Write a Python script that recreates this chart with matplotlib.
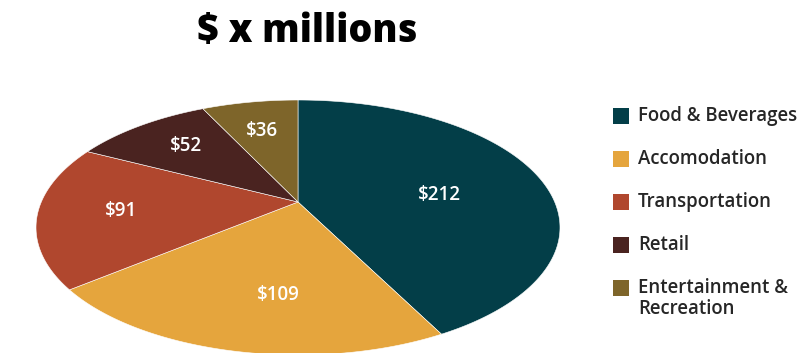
import numpy as np
import matplotlib
matplotlib.use("Agg")
import matplotlib.pyplot as plt
from matplotlib.patches import Polygon, Rectangle

# spending by category, $ millions
categories = ["Food & Beverages", "Accomodation", "Transportation", "Retail",
              "Entertainment &\nRecreation"]
values = [212, 109, 91, 52, 36]
value_labels = ["$212", "$109", "$91", "$52", "$36"]
colors = ["#033e48", "#e5a53d", "#b0472e", "#4a2320", "#7e652a"]

# where each value label sits: radius on the disc and turn from mid-slice (deg)
label_r = [0.56, 0.66, 0.683, 0.696, 0.675]
label_turn = [-7.8, 6.2, 0.0, -1.0, 0.6]

plt.rcParams["font.family"] = ["Open Sans", "DejaVu Sans"]

fig = plt.figure(figsize=(8.11, 3.53), dpi=100)
ax = fig.add_axes([0, 0, 1, 1])
ax.set_xlim(0, 811)
ax.set_ylim(353, 0)
ax.axis("off")

# tilted pie: unit disc seen in perspective (far side on top)
cx, cy = 298, 202      # apex of the slices
sx, sy = 256.7, 122.4  # horizontal / vertical scale
tilt = 0.2             # perspective strength


def project(r, theta):
    u = r * np.cos(theta)
    v = r * np.sin(theta)
    w = 1 + tilt * v
    return cx + sx * u / w, cy - sy * v / w


fracs = np.array(values, dtype=float) / sum(values)
edges = np.pi / 2 - 2 * np.pi * np.concatenate([[0], np.cumsum(fracs)])

for i in range(len(values)):
    t = np.linspace(edges[i], edges[i + 1], 200)
    px, py = project(np.ones_like(t), t)
    xs = np.concatenate([[cx], px])
    ys = np.concatenate([[cy], py])
    ax.add_patch(Polygon(np.column_stack([xs, ys]), closed=True,
                         facecolor=colors[i], edgecolor="white",
                         linewidth=0.4))
    mid = (edges[i] + edges[i + 1]) / 2 + np.radians(label_turn[i])
    lx, ly = project(label_r[i], mid)
    ax.text(lx, ly, value_labels[i], color="white", fontsize=13.5,
            fontweight="semibold", ha="center", va="center")

ax.text(307, 32, "$ x millions", fontsize=27, fontweight=800,
        ha="center", va="center", color="black")

# legend
for i, name in enumerate(categories):
    row = 116 + 43 * i
    ax.add_patch(Rectangle((613, row - 8), 16, 16, facecolor=colors[i],
                           edgecolor="none"))
    for j, line in enumerate(name.split("\n")):
        ax.text(638, row + 21 * j, line, fontsize=13.4, fontweight="semibold",
                color="#262626", ha="left", va="center")

fig.savefig("out.png", dpi=100)
